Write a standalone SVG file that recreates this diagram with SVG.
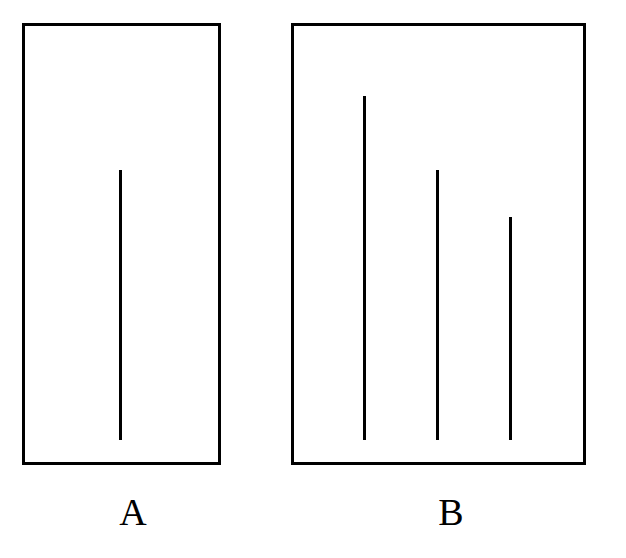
<svg xmlns="http://www.w3.org/2000/svg" width="626" height="558" viewBox="0 0 626 558">
<style>
.box{fill:none;stroke:#000;stroke-width:3}
.bar{stroke:#000;stroke-width:3;fill:none}
.lbl{font-family:"Liberation Serif","Times New Roman",serif;font-size:38px;fill:#000;text-anchor:middle}
</style>
<rect width="626" height="558" fill="#fff"/>
<g id="boxA">
<rect class="box" x="23.5" y="24.5" width="196" height="439"/>
</g>
<g id="boxB">
<rect class="box" x="292.5" y="24.5" width="292" height="439"/>
</g>
<g id="bars">
<line class="bar" x1="120.5" y1="170" x2="120.5" y2="440"/>
<line class="bar" x1="364.5" y1="96" x2="364.5" y2="440"/>
<line class="bar" x1="437.5" y1="170" x2="437.5" y2="440"/>
<line class="bar" x1="510.5" y1="217" x2="510.5" y2="440"/>
</g>
<g id="labels">
<text class="lbl" x="133" y="525">A</text>
<text class="lbl" x="451" y="525">B</text>
</g>
</svg>
